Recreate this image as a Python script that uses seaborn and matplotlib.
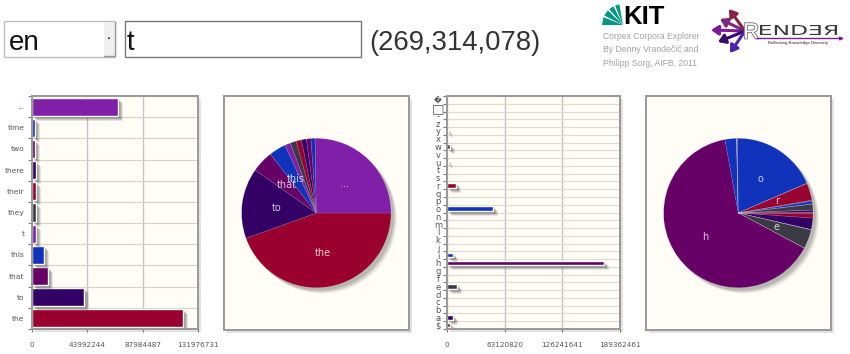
import numpy as np
import pandas as pd
import matplotlib
matplotlib.use("Agg")
import matplotlib.pyplot as plt
import matplotlib.patheffects as pe
from matplotlib.patches import Rectangle, Polygon, Circle, PathPatch
from matplotlib.textpath import TextPath
from matplotlib.font_manager import FontProperties
from matplotlib.transforms import Affine2D
import seaborn as sns

sns.set_style("white")
plt.rcParams['font.family'] = ['DejaVu Sans']

W, H = 850, 354
PX = 72 / 100  # one pixel in points

# -------------------------- data --------------------------
words = ["the", "to", "that", "this", "t", "they", "their", "there", "two", "time", "..."]
word_counts = [120000000, 41100000, 12700000, 9800000, 3400000, 3400000,
               3200000, 2900000, 2600000, 2400000, 68100000]
word_ticks = [0, 43992244, 87984487, 131976731]

letters = ["$", "a", "b", "c", "d", "e", "f", "g", "h", "i", "j", "k", "l", "m", "n",
           "o", "p", "q", "r", "s", "t", "u", "v", "w", "x", "y", "z", "-", "\u25a1", "\ufffd"]
letter_counts = [2900000, 6600000, 100000, 100000, 100000, 10900000, 100000, 100000,
                 171900000, 6600000, 100000, 100000, 100000, 100000, 200000,
                 49900000, 100000, 100000, 9800000, 300000, 400000, 1500000,
                 200000, 3300000, 100000, 1500000, 100000, 0, 0, 0]
letter_ticks = [0, 63120820, 126241641, 189362461]

cycle = ["#99002f", "#330066", "#660066", "#1133bb", "#8020a8", "#3a3a44"]
panel_bg = "#fffdf6"
frame_c = "#9a9a9a"
label_c = "#555555"


def px_axes(l, t, r, b, z=2):
    return fig.add_axes([l / W, 1 - b / H, (r - l) / W, (b - t) / H], zorder=z)


def style_frame(ax):
    ax.set_facecolor(panel_bg)
    for s in ax.spines.values():
        s.set_visible(True)
        s.set_color(frame_c)
        s.set_linewidth(2 * PX)


def bar_chart(rect, names, counts, ticks, width, grid_c, shadow, lab_size, lab_pad, ha):
    ax = px_axes(*rect)
    df = pd.DataFrame({"name": names, "count": counts})
    pal = {n: cycle[i % 6] for i, n in enumerate(names)}
    sns.barplot(data=df, x="count", y="name", hue="name", order=names[::-1], palette=pal,
                saturation=1, width=width, legend=False, dodge=False, ax=ax)
    style_frame(ax)
    n = len(names)
    ax.set_xlim(0, ticks[-1])
    ax.set_ylim(n - 0.5, -0.5)
    ax.set_xlabel("")
    ax.set_ylabel("")
    ax.set_xticks(ticks)
    ax.set_xticklabels([str(t) for t in ticks])
    ax.set_yticks(np.arange(-0.5, n), minor=True)
    ax.set_axisbelow(True)
    ax.grid(True, axis="x", color="#c4c4c4", lw=1.4 * PX)
    ax.grid(True, axis="y", which="minor", color=grid_c, lw=1.2 * PX)
    ax.grid(False, axis="y", which="major")
    ax.tick_params(axis="x", length=3 * PX, width=0.8, color="#777777", labelsize=5.2, pad=7,
                   labelcolor=label_c, bottom=True)
    ax.tick_params(axis="y", which="major", length=0, labelsize=lab_size, pad=lab_pad,
                   labelcolor=label_c)
    ax.tick_params(axis="y", which="minor", length=4 * PX, width=0.8, color="#777777", left=True)
    for lab in ax.get_yticklabels():
        lab.set_ha(ha)
    fx = []
    for off, a in [(shadow + 1, 0.14), (shadow, 0.2), (shadow - 1, 0.26), (shadow - 2, 0.3)]:
        fx.append(pe.SimplePatchShadow(offset=(off * PX, -off * PX), shadow_rgbFace="#555555", alpha=a))
    fx.append(pe.Normal())
    for bar in ax.patches:
        bar.set_path_effects(fx)
    return ax


def pie_chart(rect, cx, cy, r, names, counts):
    ax = px_axes(*rect)
    style_frame(ax)
    total = sum(counts)
    labs = [n if c / total >= 0.03 else "" for n, c in zip(names, counts)]
    colors = [cycle[i % 6] for i in range(len(names))]
    wedges, texts = ax.pie(counts, labels=labs, colors=colors, startangle=0, counterclock=False,
                           labeldistance=0.54, frame=True,
                           wedgeprops=dict(edgecolor=(1, 1, 1, 0.18), linewidth=0.4),
                           textprops=dict(fontsize=7, color="white", alpha=0.78,
                                          ha="center", va="center"))
    for t in texts:
        t.set_ha("center")
        t.set_va("center")
    for off, a in [(6, 0.08), (5, 0.12), (4, 0.16), (3, 0.2)]:
        ax.add_patch(Circle((off / r, -off / r), 1, fc="#666666", ec="none", alpha=a, zorder=0.5))
    l, t, rr, b = rect
    ax.set_xlim((l - cx) / r, (rr - cx) / r)
    ax.set_ylim((cy - b) / r, (cy - t) / r)
    ax.set_xticks([])
    ax.set_yticks([])
    return ax


fig = plt.figure(figsize=(W / 100, H / 100), dpi=100, facecolor="white")

# -------------------------- page background, header --------------------------
page = fig.add_axes([0, 0, 1, 1], zorder=1)
page.set_xlim(0, W)
page.set_ylim(H, 0)
page.axis("off")

for (l, t, r, b) in [(32, 96, 198, 329), (224, 96, 409, 330), (447, 96, 620, 329), (646, 96, 831, 330)]:
    page.add_patch(Rectangle((l + 3, t + 3), r - l, b - t, fc="#e2e2e2", ec="none"))

page.add_patch(Rectangle((4.5, 21), 111, 35.5, fc="white", ec="#bcbcbc", lw=1))
page.add_patch(Rectangle((104, 22), 11, 33.5, fc="#efefef", ec="none"))
page.plot([115, 115, 104], [22, 55.5, 55.5], color="#999999", lw=1)
page.add_patch(Polygon([(107.5, 37.5), (110.5, 37.5), (109, 39.5)], fc="#222222", ec="none"))
page.add_patch(Rectangle((125.5, 21), 236, 35.5, fc="white", ec="#777777", lw=1))
page.text(9, 50, "en", family="Liberation Sans", fontsize=20, color="#111111")
page.text(127, 50, "t", family="Liberation Sans", fontsize=20, color="#111111")
page.text(369, 50, "(269,314,078)", family="Liberation Sans", fontsize=19.8, color="#333333")

# KIT logo
for a0, a1 in [(180, 158), (153, 136), (131, 117), (112, 100)]:
    a = np.radians([a0, a1])
    page.add_patch(Polygon([(623, 25),
                            (623 + 21 * np.cos(a[0]), 25 - 21 * np.sin(a[0])),
                            (623 + 21 * np.cos(a[1]), 25 - 21 * np.sin(a[1]))],
                           fc="#009682", ec="none"))
page.text(623.5, 24.5, "KIT", family="Liberation Sans", weight="bold", fontsize=18.5, color="black")
for y, line in [(39, "Corpex Corpora Explorer"), (52.5, "By Denny Vrande\u010di\u0107 and"),
                (66, "Philipp Sorg, AIFB, 2011")]:
    page.text(603, y, line, family="Liberation Sans", fontsize=6.2, color="#a0a0a0")

# RENDER logo
for (x, y), c in [((729, 9), "#8b2040"), ((720, 19), "#7a2a7a"), ((711, 30), "#7d1a9a"),
                  ((718, 42), "#3a0a6a"), ((730, 53), "#5020b0")]:
    page.annotate("", xy=(x, y), xytext=(745, 31),
                  arrowprops=dict(arrowstyle="-|>,head_width=0.28,head_length=0.42", color=c, lw=2.2,
                                  shrinkA=0, shrinkB=0))
page.text(743, 38.5, "R", family="Liberation Sans", fontsize=16, color="white",
          path_effects=[pe.withStroke(linewidth=1.3, foreground="#777777")])
logo = TextPath((0, 0), "END\u018e\u042f", size=10, prop=FontProperties(family="DejaVu Sans"))
box = logo.get_extents()
logo_tf = Affine2D().translate(-box.x0, -box.y0).scale(77 / box.width, -10 / box.height).translate(760, 35)
page.add_patch(PathPatch(logo, transform=logo_tf + page.transData, fc="#3a3a3a", ec="none"))
page.annotate("", xy=(844, 38.5), xytext=(757, 38.5),
              arrowprops=dict(arrowstyle="-|>,head_width=0.1,head_length=0.2", color="#7d1a9a", lw=1,
                              shrinkA=0, shrinkB=0))
page.text(798.5, 43, "Reflecting Knowledge Diversity", family="Liberation Sans", fontsize=2.9,
          weight="bold", color="#555555", ha="center", va="center")

# -------------------------- charts --------------------------
ax1 = bar_chart((32, 96, 198, 329), words, word_counts, word_ticks, 0.85, "#d4d4cc", 4, 5.4, 5.5, "right")
pie_chart((224, 96, 409, 330), 316.3, 213, 74.7, words, word_counts)
ax3 = bar_chart((447, 96, 620, 329), letters, letter_counts, letter_ticks, 0.58, "#dcdcd0", 4, 6, 6.5, "center")
ax3.get_yticklabels()[1].set_fontsize(9.5)
ax3.get_yticklabels()[0].set_fontsize(5.5)
pie_chart((646, 96, 831, 330), 738.3, 213, 74.7, letters, letter_counts)

plt.savefig("out.png", dpi=100, facecolor="white")
plt.close()
